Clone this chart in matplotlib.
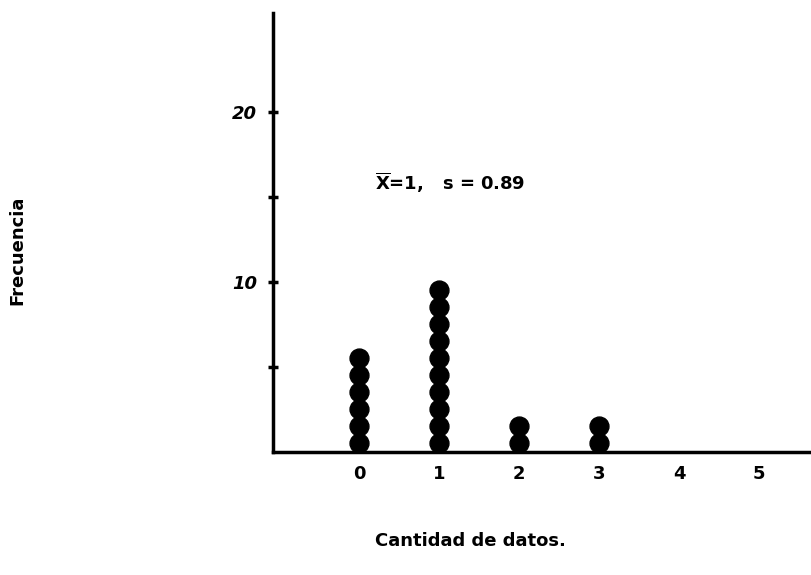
import matplotlib
matplotlib.use('Agg')
import matplotlib.pyplot as plt

# Dot plot data: value -> frequency
valores = [0, 1, 2, 3]
frecuencias = [6, 10, 2, 2]
x_ticks = [0, 1, 2, 3, 4, 5]
y_ticks = [5, 10, 15, 20]
y_labels = ['', '10', '', '20']

fuente = ['DejaVu Sans']

fig = plt.figure(figsize=(8.11, 5.75), dpi=100)
ax = fig.add_axes([0.3366, 0.2139, 0.6634, 0.7631])

# stack the dots, one per observation
for v, f in zip(valores, frecuencias):
    ys = [i + 0.55 for i in range(f)]
    ax.scatter([v] * f, ys, s=185, color='black', zorder=3, clip_on=False)

ax.set_xlim(-1.075, 5.65)
ax.set_ylim(0, 25.8)

for side in ['top', 'right']:
    ax.spines[side].set_visible(False)
ax.spines['left'].set_linewidth(2.5)
ax.spines['bottom'].set_linewidth(2.5)

ax.set_xticks(x_ticks)
ax.set_xticklabels([str(t) for t in x_ticks], fontfamily=fuente,
                   fontweight='bold', fontsize=13)
ax.tick_params(axis='x', length=0, pad=9)

ax.set_yticks(y_ticks)
ax.set_yticklabels(y_labels, fontfamily=fuente, fontweight='bold',
                   fontstyle='italic', fontsize=13)
ax.tick_params(axis='y', direction='inout', length=7, width=2.5, pad=8)

ax.text(0.2, 15.4, r'$\overline{\mathbf{X}}$=1,   s = 0.89', fontfamily=fuente,
        fontweight='bold', fontsize=13)

fig.text(0.58, 0.06, 'Cantidad de datos.', fontfamily=fuente, fontweight='bold',
         fontsize=13, ha='center', va='center')
fig.text(0.022, 0.565, 'Frecuencia', fontfamily=fuente, fontweight='bold',
         fontsize=13, ha='center', va='center', rotation=90)

fig.savefig('out.png', dpi=100)
